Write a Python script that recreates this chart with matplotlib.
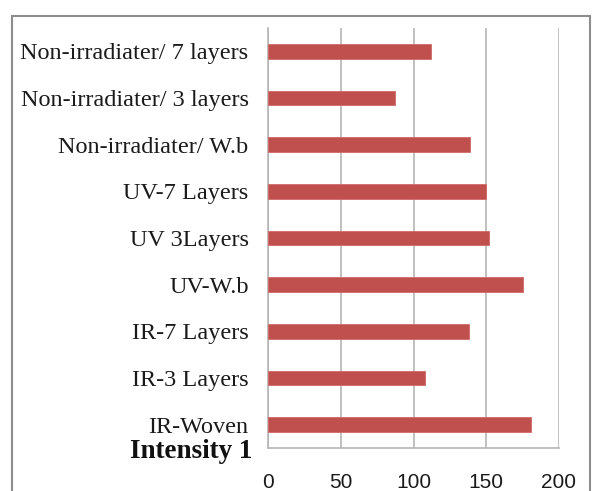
import matplotlib
matplotlib.use('Agg')
import matplotlib.pyplot as plt
from matplotlib.patches import Rectangle

# categories from bottom to top
labels = ['IR-Woven', 'IR-3 Layers', 'IR-7 Layers', 'UV-W.b', 'UV 3Layers',
          'UV-7 Layers', 'Non-irradiater/ W.b', 'Non-irradiater/ 3 layers',
          'Non-irradiater/ 7 layers']
values = [181, 108, 138, 175, 152, 150, 139, 87, 112]
xticks = [0, 50, 100, 150, 200]

W, H = 592, 491
fig = plt.figure(figsize=(W / 100, H / 100), dpi=100)

# outer frame of the chart area
fig.patches.append(Rectangle((12 / W, -0.01), 578 / W, 1 - 16 / H + 0.01,
                             transform=fig.transFigure, fill=False,
                             edgecolor='#8c8c8c', linewidth=1.5))

ax = fig.add_axes([268 / W, 1 - 448 / H, 291 / W, 420 / H])
ax.barh(range(len(values)), values, height=0.31, color='#c0504d',
        edgecolor='#d06a67', linewidth=0.6, zorder=3)

ax.set_xlim(0, 200)
ax.set_ylim(-0.5, len(values) - 0.5)
ax.set_xticks(xticks)
ax.set_yticks(range(len(labels)))
ax.set_yticklabels(labels, family='Liberation Serif', fontsize=17.5,
                   color='#1a1a1a')
ax.set_xticklabels([str(t) for t in xticks], family='Liberation Sans',
                   fontsize=15, color='#1a1a1a')
ax.tick_params(axis='both', length=0)
ax.tick_params(axis='x', pad=18)
ax.tick_params(axis='y', pad=14)

ax.grid(axis='x', color='#b5b5b5', linewidth=1.2, zorder=0)
for s in ['top', 'right']:
    ax.spines[s].set_visible(False)
for s in ['left', 'bottom']:
    ax.spines[s].set_color('#b5b5b5')
    ax.spines[s].set_linewidth(1.2)

fig.text(252 / W, 1 - 452 / H, 'Intensity 1', family='Liberation Serif',
         fontweight='bold', fontsize=19.5, ha='right', va='center',
         color='#111111')

fig.savefig('out.png', dpi=100)
